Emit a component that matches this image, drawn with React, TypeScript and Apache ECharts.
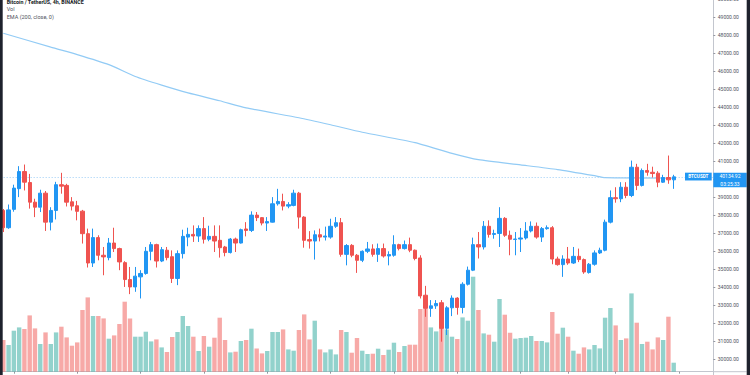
import React, { useEffect, useRef } from "react";
import * as echarts from "echarts";

// ---- data (BTCUSDT 4h, Binance) ----
const openP = [
  38270, 37310, 38330, 39480, 40430, 39820, 38730, 38450, 39230, 37620,
  38270, 39700, 39660, 38750, 38530, 38230, 36980, 35350, 36760, 35780,
  35650, 36460, 36150, 35370, 34430, 34020, 34580, 34770, 36000, 36370,
  35460, 36060, 35700, 34490, 35870, 36790, 36940, 36850, 37260, 36670,
  36830, 36610, 36240, 35930, 36680, 36460, 37240, 37160, 38010, 37870,
  37570, 37620, 38640, 38770, 38510, 38550, 39230, 37900, 36650, 36570,
  36920, 36790, 36790, 37390, 37590, 35830, 36330, 35780, 35500, 36000,
  36130, 35830, 36150, 35740, 35780, 36370, 36150, 36370, 36060, 35630,
  33560, 32830, 32970, 33140, 31720, 32860, 33400, 32880, 34170, 34950,
  36370, 36240, 37390, 36940, 36990, 37830, 36890, 36660, 36680, 36740,
  37130, 37390, 36790, 37260, 37310, 35570, 35260, 35570, 35350, 35720,
  35540, 34820, 35280, 35910, 36060, 37620, 38980, 38920, 39560, 39100,
  40670, 39660, 40490, 40390, 40340, 39840, 40100, 39970,
];
const closeP = [
  37310, 38300, 39510, 40430, 39840, 38730, 38450, 39230, 37620, 38270,
  39700, 39620, 38730, 38510, 38220, 36980, 35350, 36760, 35780, 35690,
  36460, 36150, 35410, 34430, 34020, 34620, 34770, 36000, 36370, 35460,
  36090, 35650, 34490, 35870, 36830, 36940, 36850, 37260, 36670, 36830,
  36570, 36200, 35930, 36680, 36460, 37200, 37160, 38010, 37870, 37570,
  37650, 38640, 38770, 38510, 38590, 39230, 37900, 36610, 36570, 36920,
  36790, 36850, 37390, 37590, 35830, 36320, 35780, 35500, 36000, 36130,
  35830, 36150, 35740, 35820, 36370, 36150, 36370, 36060, 35600, 33520,
  32830, 32970, 33100, 31720, 32860, 33400, 32880, 34170, 34950, 36370,
  36240, 37390, 36940, 36990, 37830, 36890, 36670, 36680, 36740, 37130,
  37390, 36790, 37260, 37310, 35570, 35260, 35570, 35350, 35720, 35540,
  34850, 35280, 35910, 36060, 37620, 38980, 38920, 39560, 39100, 40670,
  39660, 40490, 40390, 40320, 39840, 40100, 39970, 40134.92,
];
const lowP = [
  37070, 37250, 38200, 39010, 39380, 38370, 37900, 38180, 37130, 37160,
  37770, 39200, 38490, 38270, 37720, 36430, 35100, 35130, 35500, 34670,
  35500, 35960, 34950, 34020, 33620, 33750, 33380, 34700, 35500, 35100,
  35400, 35500, 34240, 34120, 35600, 36280, 36520, 36520, 36430, 36560,
  35960, 35650, 35720, 35880, 35960, 36430, 36830, 37070, 37680, 37440,
  37130, 37600, 38540, 38270, 38390, 38500, 37260, 36200, 36150, 35540,
  36550, 36600, 36700, 37300, 35700, 35220, 35670, 34800, 35400, 35900,
  35700, 35410, 35650, 35220, 35700, 36050, 36100, 35950, 35500, 33380,
  32360, 32360, 32800, 30980, 31350, 32400, 32480, 32550, 34100, 34900,
  35600, 36100, 36760, 36700, 36240, 36800, 35780, 35780, 35960, 36650,
  37050, 36700, 36520, 37200, 35280, 35200, 34580, 35250, 35300, 35400,
  34750, 34760, 35200, 35850, 36000, 37550, 38700, 38730, 38950, 39010,
  39400, 39600, 40200, 40100, 39560, 39800, 39750, 39470,
];
const highP = [
  38350, 38600, 39700, 40730, 40820, 40300, 38920, 39420, 39350, 38450,
  39860, 40360, 39750, 39010, 38800, 38300, 37260, 37260, 36890, 36240,
  36740, 37310, 36200, 35450, 35130, 35130, 34950, 36240, 36520, 36420,
  36240, 36240, 36050, 36050, 37200, 37310, 37440, 37440, 37900, 37420,
  37440, 37440, 36300, 36740, 36760, 37260, 37620, 38220, 38180, 37900,
  37900, 39010, 39470, 39200, 38730, 39420, 39300, 37950, 37120, 37160,
  37260, 37370, 37810, 37900, 37850, 36400, 36400, 35850, 36050, 36520,
  36390, 36430, 36430, 36000, 36890, 36420, 36600, 36760, 36100, 35780,
  34080, 33290, 33290, 33290, 32950, 33550, 33450, 34280, 35150, 36760,
  37070, 37680, 37720, 37200, 38450, 37900, 37150, 37070, 37290, 37620,
  37660, 37600, 37350, 37440, 37400, 35700, 35780, 36240, 36240, 36150,
  35600, 35350, 36050, 36200, 37760, 39380, 39560, 39840, 39840, 41040,
  40860, 40600, 40860, 40700, 40450, 40250, 41320, 40250,
];
const volume = [
  6340, 5340, 8200, 8860, 8540, 11260, 8660, 5540, 7860, 5540,
  7860, 9000, 6860, 5200, 5860, 12340, 14860, 11140, 11140, 10660,
  6600, 7260, 9540, 14000, 10660, 7000, 7000, 8000, 6060, 6460,
  4860, 3940, 6940, 7940, 11140, 9140, 7000, 4140, 7140, 5000,
  6800, 10800, 6340, 3860, 4000, 6140, 6340, 8600, 4660, 3660,
  4140, 7940, 7940, 8460, 4460, 4200, 8340, 11460, 6460, 10200,
  4460, 3860, 4460, 3460, 8340, 7940, 3800, 6740, 4200, 3540,
  3600, 4600, 3340, 4400, 5800, 3940, 5140, 5400, 5400, 12540,
  12540, 8860, 8060, 13800, 8460, 7000, 6540, 10860, 10200, 19000,
  12340, 7660, 7400, 6000, 14540, 11400, 7800, 6600, 6740, 6800,
  7140, 6140, 6140, 5860, 11940, 7600, 8800, 7000, 4200, 3600,
  4860, 4460, 5340, 4660, 10800, 12740, 9260, 6340, 6660, 15660,
  9800, 5540, 6000, 4460, 6860, 6340, 11000, 1800,
];
// EMA(200) read at a few candle positions
const emaIndex = [0, 9, 14, 20, 25, 30, 35, 41, 46, 56, 62, 68, 78, 85, 90, 98, 105, 112, 114, 127];
const emaValue = [48116, 47340, 46930, 46370, 45710, 45230, 44800, 44366, 43965, 43420, 43030, 42615, 42040, 41440, 41090, 40800, 40540, 40200, 40090, 40070];
const tickIndex = [2, 14, 26, 38, 50, 62, 74, 86, 98, 107, 116, 128];
const priceTicks = { min: 29000, max: 50000, step: 1000 };
const lastPrice = 40134.92;
const countdown = "03:25:33";
const symbolName = "BTCUSDT";
const slotCount = 135;

const categories: string[] = [];
{
  const start = Date.UTC(2021, 4, 25, 0, 0, 0);
  for (let i = 0; i < slotCount; i++) {
    const d = new Date(start + i * 4 * 3600 * 1000);
    categories.push(
      `${d.getUTCMonth() + 1}/${d.getUTCDate()} ${String(d.getUTCHours()).padStart(2, "0")}:00`
    );
  }
}

const UP = "#2196F3";
const DOWN = "#EF5350";
const VOL_UP = "rgba(38,166,154,0.5)";
const VOL_DOWN = "rgba(239,83,80,0.5)";
const AXIS = "#c3c6ce";
const FONT = "Roboto";

export default function App() {
  const ref = useRef<HTMLDivElement>(null);

  useEffect(() => {
    if (!ref.current) return;
    const chart = echarts.init(ref.current, undefined, { renderer: "svg" });

    const candleData = openP.map((o, i) => [o, closeP[i], lowP[i], highP[i]]);
    const volData = volume.map((v, i) => ({
      value: v,
      itemStyle: { color: closeP[i] >= openP[i] ? VOL_UP : VOL_DOWN },
    }));
    const emaData: (number | null)[] = new Array(slotCount).fill(null);
    emaIndex.forEach((idx, k) => (emaData[idx] = emaValue[k]));
    const tickSet = new Set(tickIndex);

    chart.setOption({
      animation: false,
      backgroundColor: "#ffffff",
      textStyle: { fontFamily: FONT },
      grid: [
        { left: 0.66, right: 36.7, top: -0.7, bottom: -2.3, outerBoundsMode: "none", containLabel: false },
        { left: 0.66, right: 36.7, top: 0, bottom: 3.3, outerBoundsMode: "none", containLabel: false },
      ],
      xAxis: [
        { type: "category", data: categories, gridIndex: 0, show: false, boundaryGap: true },
        {
          type: "category",
          data: categories,
          gridIndex: 1,
          boundaryGap: true,
          axisLine: { show: true, lineStyle: { color: AXIS, width: 1 } },
          axisTick: {
            show: true,
            alignWithLabel: true,
            length: 2,
            interval: (index: number) => tickSet.has(index),
            lineStyle: { color: "#9598a1" },
          },
          axisLabel: { show: false },
          splitLine: { show: false },
        },
      ],
      yAxis: [
        {
          type: "value",
          gridIndex: 0,
          position: "right",
          min: priceTicks.min,
          max: priceTicks.max,
          interval: priceTicks.step,
          scale: true,
          axisLine: { show: true, lineStyle: { color: AXIS, width: 1 } },
          axisTick: { show: true, length: 2, lineStyle: { color: "#9598a1" } },
          axisLabel: {
            color: "#50535e",
            fontSize: 5,
            fontFamily: FONT,
            margin: 4.5,
            showMinLabel: false,
            // the label under the last-price box is hidden, as in the reference
            formatter: (v: number) => (Math.abs(v - lastPrice) < 500 ? "" : v.toFixed(2)),
          },
          splitLine: { show: false },
        },
        {
          type: "value",
          gridIndex: 1,
          min: 0,
          max: 74340,
          show: false,
          splitLine: { show: false },
        },
      ],
      series: [
        {
          type: "bar",
          name: "Vol",
          xAxisIndex: 1,
          yAxisIndex: 1,
          data: volData,
          barWidth: 4.4,
          z: 1,
        },
        {
          type: "candlestick",
          name: "BTCUSDT",
          xAxisIndex: 0,
          yAxisIndex: 0,
          data: candleData,
          barWidth: 3.8,
          z: 5,
          itemStyle: {
            color: UP,
            color0: DOWN,
            borderColor: UP,
            borderColor0: DOWN,
            borderWidth: 1,
          },
          markLine: {
            silent: true,
            symbol: "none",
            label: { show: false },
            lineStyle: { color: "#9ccdf6", type: [1, 2], width: 1 },
            data: [{ yAxis: lastPrice }],
          },
        },
        {
          type: "line",
          name: "EMA",
          xAxisIndex: 0,
          yAxisIndex: 0,
          data: emaData,
          connectNulls: true,
          smooth: 0.2,
          showSymbol: false,
          symbol: "none",
          lineStyle: { color: "#92cbf5", width: 1.2 },
          z: 3,
        },
      ],
    });

    const py = chart.convertToPixel({ yAxisIndex: 0 }, lastPrice) as number;
    const axisX = 750 - 36.7;

    chart.setOption({
      graphic: [
        { type: "rect", shape: { x: 0, y: 0, width: 2.7, height: 375 }, style: { fill: "#1e222d" }, z: 100 },
        { type: "rect", shape: { x: 746.7, y: 0, width: 3.3, height: 375 }, style: { fill: "#1e222d" }, z: 100 },
        { type: "line", shape: { x1: axisX, y1: 371.7, x2: 746.7, y2: 371.7 }, style: { stroke: AXIS, lineWidth: 1 }, z: 50 },
        {
          type: "text", x: 6.7, y: 1.6, z: 60,
          style: { text: "Bitcoin / TetherUS, 4h, BINANCE", fill: "#131722", font: `bold 5.3px ${FONT}`, textVerticalAlign: "middle" },
        },
        {
          type: "text", x: 6.7, y: 9.4, z: 60,
          style: { text: "Vol", fill: "#50535e", font: `5.5px ${FONT}`, textVerticalAlign: "middle" },
        },
        {
          type: "text", x: 6.7, y: 17.3, z: 60,
          style: { text: "EMA (200, close, 0)", fill: "#50535e", font: `5.5px ${FONT}`, textVerticalAlign: "middle" },
        },
        { type: "rect", shape: { x: 685, y: py - 4.2, width: 26.7, height: 7.8 }, style: { fill: UP }, z: 60 },
        {
          type: "text", x: 698.3, y: py - 0.3, z: 61,
          style: { text: symbolName, fill: "#ffffff", font: `bold 4.6px ${FONT}`, textAlign: "center", textVerticalAlign: "middle" },
        },
        { type: "rect", shape: { x: axisX, y: py - 4.2, width: 33.4, height: 14.6 }, style: { fill: UP }, z: 60 },
        {
          type: "text", x: 730, y: py - 0.6, z: 61,
          style: { text: lastPrice.toFixed(2), fill: "#ffffff", font: `5px ${FONT}`, textAlign: "center", textVerticalAlign: "middle" },
        },
        {
          type: "text", x: 730, y: py + 6.9, z: 61,
          style: { text: countdown, fill: "#ffffff", font: `5px ${FONT}`, textAlign: "center", textVerticalAlign: "middle" },
        },
      ],
    });

    return () => chart.dispose();
  }, []);

  return (
    <div
      ref={ref}
      style={{ position: "fixed", left: 0, top: 0, width: 750, height: 375, background: "#fff" }}
    />
  );
}
